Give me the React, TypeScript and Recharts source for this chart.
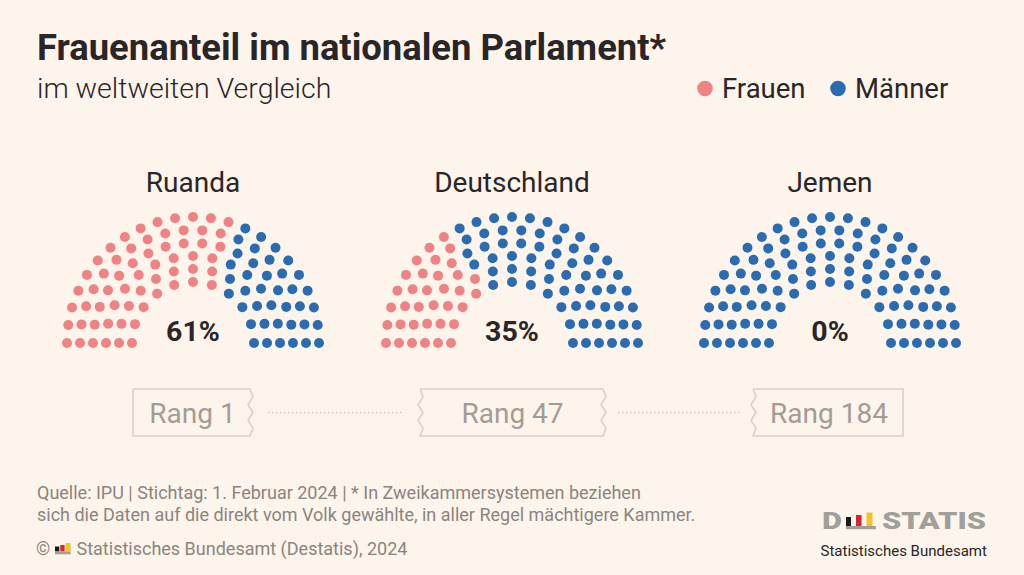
import React from "react";
import { Pie, PieChart } from "recharts";

// Anteil Frauen im nationalen Parlament (IPU, 1. Februar 2024)
const countries = ["Ruanda", "Deutschland", "Jemen"];
const womenShare = [61, 35, 0];
const ranks = [1, 47, 184];
const groups = ["Frauen", "Männer"];

// Halbkreis aus 100 Sitzen, von innen nach außen
const seatsPerRow = [11, 13, 15, 18, 20, 23];

const COLORS = { Frauen: "#ef8383", Männer: "#2b6cb0" };
const BG = "#fdf4eb";
const INK = "#2a2526";
const FONT = "Roboto, 'Open Sans', sans-serif";

const CENTER_X = [193, 512, 830];
const CENTER_Y = 343;
const INNER_R = 61;
const ROW_STEP = 13;
const SEAT_R = 5;
const RADIAN = Math.PI / 180;

type Seat = { value: number; color: string };

// Sitze nach Winkel sortiert von links nach rechts, die ersten gehen an Frauen
function buildRows(share: number): Seat[][] {
  const total = seatsPerRow.reduce((a, b) => a + b, 0);
  const women = Math.round((total * share) / 100);
  const all = seatsPerRow.flatMap((n, row) =>
    Array.from({ length: n }, (_, i) => ({ row, i, pos: i / (n - 1) }))
  );
  const order = [...all].sort((a, b) => a.pos - b.pos || b.row - a.row);
  const isWoman = new Set(order.slice(0, women).map((s) => `${s.row}-${s.i}`));
  return seatsPerRow.map((n, row) =>
    Array.from({ length: n }, (_, i) => ({
      value: 1,
      color: isWoman.has(`${row}-${i}`) ? COLORS.Frauen : COLORS.Männer,
    }))
  );
}

const renderSeat = (props: any) => {
  const { cx, cy, midAngle, innerRadius, outerRadius, payload, index } = props;
  const r = (innerRadius + outerRadius) / 2;
  const x = cx + r * Math.cos(-midAngle * RADIAN);
  const y = cy + r * Math.sin(-midAngle * RADIAN);
  const color = payload?.color ?? props.color;
  return <circle key={`seat-${index}`} cx={x} cy={y} r={SEAT_R} fill={color} />;
};

function zigzag(x: number, y0: number, y1: number) {
  const offs = [0, 3, -2, 3, -2, 3, 0];
  const step = (y1 - y0) / (offs.length - 1);
  return offs.map((o, k) => `${x + o},${y0 + k * step}`).join(" L ");
}

function RankBox({ left, right, leftZig, rightZig, label }: {
  left: number; right: number; leftZig: boolean; rightZig: boolean; label: string;
}) {
  const y0 = 389;
  const y1 = 436;
  const d = [
    `M ${left},${y0} L ${right},${y0}`,
    rightZig ? `L ${zigzag(right, y0, y1)}` : `L ${right},${y1}`,
    `L ${left},${y1}`,
    leftZig ? `L ${zigzag(left, y1, y0)}` : `L ${left},${y0}`,
  ].join(" ");
  return (
    <g>
      <path d={d} fill="none" stroke="#d8d1c9" strokeWidth={1.6} strokeLinejoin="round" />
      <text x={(left + right) / 2 + 1} y={422.5} textAnchor="middle" fontSize={28} fill="#a39c95">
        {label}
      </text>
    </g>
  );
}

export default function App() {
  const rowsByCountry = womenShare.map(buildRows);
  const boxes = [
    { left: 133, right: 250, leftZig: false, rightZig: true },
    { left: 420, right: 603, leftZig: true, rightZig: true },
    { left: 753, right: 903, leftZig: true, rightZig: false },
  ];

  return (
    <div
      style={{
        position: "fixed",
        left: 0,
        top: 0,
        width: 1024,
        height: 575,
        background: BG,
        fontFamily: FONT,
        overflow: "hidden",
      }}
    >
      <div style={{ position: "absolute", left: 0, top: 0 }}>
        <PieChart width={1024} height={575} margin={{ top: 0, right: 0, bottom: 0, left: 0 }}>
          {rowsByCountry.map((rows, c) =>
            rows.map((data, row) => {
              const n = seatsPerRow[row];
              const half = 90 / (n - 1);
              const r = INNER_R + row * ROW_STEP;
              return (
                <Pie
                  key={`${countries[c]}-${row}`}
                  data={data}
                  dataKey="value"
                  cx={CENTER_X[c]}
                  cy={CENTER_Y}
                  innerRadius={r - 1}
                  outerRadius={r + 1}
                  startAngle={180 + half}
                  endAngle={-half}
                  fill="none"
                  stroke="none"
                  label={renderSeat}
                  labelLine={false}
                  isAnimationActive={false}
                />
              );
            })
          )}
        </PieChart>
      </div>

      <svg
        width={1024}
        height={575}
        style={{ position: "absolute", left: 0, top: 0, pointerEvents: "none" }}
        fontFamily={FONT}
      >
        <text x={37} y={60} fontSize={36.4} fontWeight={700} fill={INK}>
          Frauenanteil im nationalen Parlament*
        </text>
        <text x={37} y={98} fontSize={28.5} fontWeight={300} fill={INK}>
          im weltweiten Vergleich
        </text>

        {groups.map((g, k) => {
          const cx = k === 0 ? 705 : 838;
          return (
            <g key={g}>
              <circle cx={cx} cy={88.5} r={7.8} fill={COLORS[g as keyof typeof COLORS]} />
              <text x={cx + 17} y={97.5} fontSize={27.5} fill={INK}>
                {g}
              </text>
            </g>
          );
        })}

        {countries.map((name, c) => (
          <g key={name}>
            <text x={CENTER_X[c]} y={192} textAnchor="middle" fontSize={28} fill={INK}>
              {name}
            </text>
            <text x={CENTER_X[c]} y={341} textAnchor="middle" fontSize={28.5} fontWeight={700} fill={INK}>
              {`${womenShare[c]}%`}
            </text>
          </g>
        ))}

        {boxes.map((b, c) => (
          <RankBox key={c} {...b} label={`Rang ${ranks[c]}`} />
        ))}
        <line x1={268} x2={403} y1={412.5} y2={412.5} stroke="#cfc7bf" strokeWidth={1.6} strokeDasharray="1.4 2.6" />
        <line x1={618} x2={740} y1={412.5} y2={412.5} stroke="#cfc7bf" strokeWidth={1.6} strokeDasharray="1.4 2.6" />

        <g fontSize={18} fill="#8b847e">
          <text x={37} y={498.5}>
            Quelle: IPU | Stichtag: 1. Februar 2024 | * In Zweikammersystemen beziehen
          </text>
          <text x={37} y={521}>
            sich die Daten auf die direkt vom Volk gewählte, in aller Regel mächtigere Kammer.
          </text>
          <text x={36} y={554.5}>©</text>
          <text x={76.5} y={554.5}>Statistisches Bundesamt (Destatis), 2024</text>
        </g>
        {/* kleines Signet in der Copyright-Zeile */}
        <g>
          <rect x={55} y={546.5} width={4.3} height={5} fill="#1a1a1a" />
          <rect x={60.3} y={545} width={4.3} height={6.5} fill="#d6262b" />
          <rect x={65.6} y={543} width={5} height={8.5} fill="#f2c230" />
          <rect x={55} y={551.5} width={15.6} height={2.8} fill="#a09f9a" />
        </g>

        {/* Destatis-Logo */}
        <text x={822} y={529} fontSize={23} fontWeight={900} fill="#a09f9a" textLength={20} lengthAdjust="spacingAndGlyphs">
          D
        </text>
        <g>
          <rect x={846} y={517} width={5} height={9} fill="#1a1a1a" />
          <rect x={856} y={515} width={5.5} height={11} fill="#d6262b" />
          <rect x={866.5} y={512.5} width={6} height={13.5} fill="#f2c230" />
          <rect x={846} y={526} width={30} height={3.2} fill="#a09f9a" />
        </g>
        <text x={882} y={529} fontSize={23} fontWeight={900} fill="#a09f9a" textLength={104} lengthAdjust="spacingAndGlyphs">
          STATIS
        </text>
        <text x={820.5} y={555.5} fontSize={15} fill={INK}>
          Statistisches Bundesamt
        </text>
      </svg>
    </div>
  );
}
